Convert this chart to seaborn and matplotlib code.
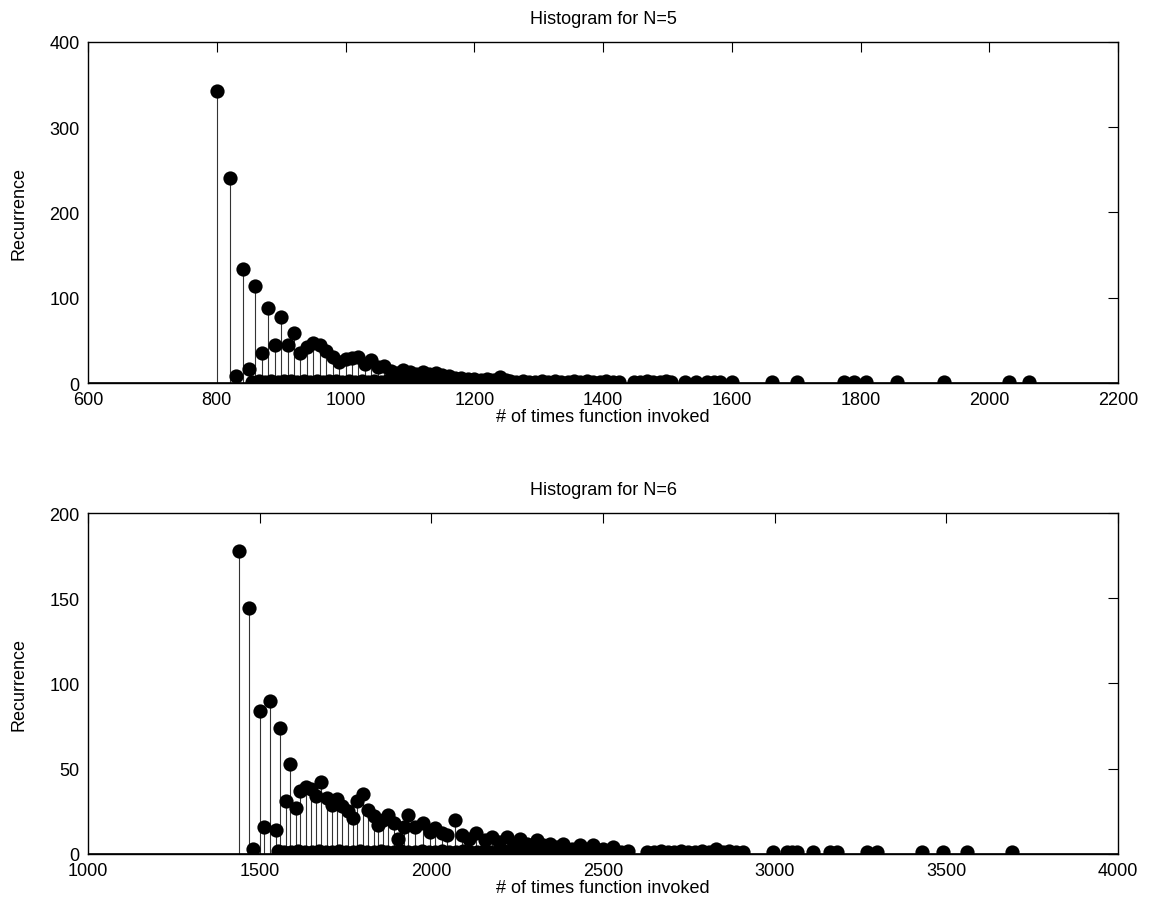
import matplotlib
matplotlib.use("Agg")
import matplotlib.pyplot as plt
import pandas as pd
import seaborn as sns

# N=5: upper points (main histogram peaks)
n5_peak_x = [800, 820, 830, 840, 850, 860, 870, 880, 890, 900,
             910, 920, 930, 940, 950, 960, 970, 980, 990, 1000,
             1010, 1020, 1030, 1040, 1050, 1060, 1070, 1080, 1090, 1100,
             1110, 1120, 1130, 1140, 1150, 1160, 1170, 1180, 1190, 1200,
             1210, 1220, 1230, 1240, 1250]
n5_peak_y = [342, 241, 8, 134, 17, 114, 35, 88, 44, 78,
             45, 59, 35, 42, 47, 44, 38, 30, 25, 28,
             29, 30, 22, 27, 19, 20, 14, 12, 15, 13,
             11, 13, 10, 12, 9, 8, 6, 6, 5, 5,
             4, 5, 4, 7, 3]

# N=5: low-count tail
n5_tail_x = [855, 865, 875, 885, 895, 905, 915, 925, 935, 945,
             955, 965, 975, 985, 995, 1005, 1015, 1025, 1035, 1045,
             1055, 1065, 1075, 1085, 1095, 1105, 1115, 1125, 1135, 1145,
             1155, 1165, 1175, 1185, 1195, 1205, 1215, 1225, 1235, 1245,
             1255, 1265, 1275, 1285, 1295, 1305, 1315, 1325, 1335, 1345,
             1355, 1365, 1375, 1385, 1395, 1405, 1415, 1425,
             1448, 1458, 1468, 1478, 1488, 1498, 1506,
             1527, 1545, 1562, 1572, 1581, 1600, 1663, 1702, 1775, 1790,
             1808, 1856, 1929, 2030, 2061]
n5_tail_y = [1, 2, 1, 2, 1, 2, 2, 1, 2, 1,
             2, 1, 2, 2, 1, 2, 1, 2, 1, 2,
             1, 2, 2, 1, 2, 3, 1, 2, 1, 2,
             2, 1, 2, 1, 2, 1, 2, 3, 1, 2,
             2, 1, 2, 1, 1, 2, 1, 2, 1, 1,
             2, 1, 2, 1, 1, 2, 1, 1,
             1, 1, 2, 1, 1, 2, 1,
             1, 1, 1, 1, 1, 1, 1, 1, 1, 1,
             1, 1, 1, 1, 1]

# N=6: upper points
n6_peak_x = [1440, 1470, 1481, 1500, 1514, 1530, 1547, 1560, 1576, 1588,
             1606, 1617, 1635, 1650, 1664, 1679, 1695, 1710, 1726, 1741,
             1757, 1771, 1784, 1800, 1816, 1833, 1846, 1860, 1875, 1890,
             1904, 1920, 1933, 1953, 1977, 1995, 2011, 2030, 2045, 2069,
             2088, 2110, 2131, 2155, 2176, 2198, 2219, 2240, 2258, 2280,
             2307, 2325, 2346, 2365, 2384, 2410, 2433, 2450, 2471, 2500,
             2530]
n6_peak_y = [178, 144, 3, 84, 16, 90, 14, 74, 31, 53,
             27, 37, 39, 38, 34, 42, 33, 29, 32, 28,
             25, 21, 31, 35, 26, 22, 17, 20, 23, 18,
             9, 16, 23, 16, 18, 13, 15, 12, 11, 20,
             11, 9, 12, 8, 10, 7, 10, 6, 9, 6,
             8, 5, 6, 4, 6, 3, 5, 3, 5, 3,
             4]

# N=6: low-count tail
n6_tail_x = [1552, 1572, 1592, 1612, 1632, 1652, 1672, 1692, 1712, 1732,
             1752, 1772, 1792, 1812, 1832, 1852, 1872, 1892, 1912, 1932,
             1952, 1972, 1992, 2012, 2032, 2052, 2072, 2092, 2112, 2132,
             2152, 2172, 2192, 2212, 2232, 2252, 2272, 2292, 2312, 2332,
             2352, 2372, 2392, 2412, 2432, 2452, 2472, 2492, 2512, 2532,
             2552, 2572,
             2628, 2648, 2668, 2688, 2708, 2728, 2748, 2768, 2788, 2808,
             2828, 2848, 2868, 2888, 2908,
             2996, 3036, 3050, 3065, 3112, 3161, 3181, 3268, 3298, 3429,
             3490, 3559, 3690]
n6_tail_y = [2, 1, 1, 2, 1, 1, 2, 1, 1, 2,
             1, 1, 2, 1, 1, 2, 1, 1, 2, 1,
             1, 2, 1, 1, 2, 1, 1, 2, 1, 1,
             2, 1, 1, 2, 1, 1, 2, 1, 1, 2,
             1, 1, 2, 1, 1, 2, 1, 1, 2, 1,
             1, 2,
             1, 1, 2, 1, 1, 2, 1, 1, 2, 1,
             3, 1, 2, 1, 1,
             1, 1, 1, 1, 1, 1, 1, 1, 1, 1,
             1, 1, 1]

PANELS = [
    ("Histogram for N=5", n5_peak_x + n5_tail_x, n5_peak_y + n5_tail_y,
     (600, 2200), [600, 800, 1000, 1200, 1400, 1600, 1800, 2000, 2200],
     (0, 400), [0, 100, 200, 300, 400]),
    ("Histogram for N=6", n6_peak_x + n6_tail_x, n6_peak_y + n6_tail_y,
     (1000, 4000), [1000, 1500, 2000, 2500, 3000, 3500, 4000],
     (0, 200), [0, 50, 100, 150, 200]),
]


def draw_stem(ax, title, xs, ys, xlim, xticks, ylim, yticks):
    df = pd.DataFrame({"x": xs, "y": ys})
    ax.vlines(df["x"], 0, df["y"], color="#333333", linewidth=0.8, zorder=1)
    ax.axhline(0, color="black", linewidth=1.2, zorder=1)
    sns.scatterplot(data=df, x="x", y="y", ax=ax, color="black", s=105,
                    edgecolor="black", linewidth=0, zorder=3, legend=False)
    ax.set_xlim(*xlim)
    ax.set_ylim(*ylim)
    ax.set_xticks(xticks)
    ax.set_yticks(yticks)
    ax.set_title(title, fontsize=13, pad=14, color="black")
    ax.set_xlabel("# of times function invoked", fontsize=13, labelpad=0,
                  color="black")
    ax.set_ylabel("Recurrence", fontsize=13, labelpad=16, color="black")
    ax.tick_params(direction="in", length=7, width=0.8, top=True, right=True,
                   labelsize=13, pad=6, colors="black")
    for spine in ax.spines.values():
        spine.set_visible(True)
        spine.set_color("black")
        spine.set_linewidth(1.0)


sns.set_style("white")
plt.rcParams["font.family"] = ["Liberation Sans", "DejaVu Sans"]
plt.rcParams["text.color"] = "black"

fig = plt.figure(figsize=(11.61, 9.2), dpi=100)
ax_top = fig.add_axes([0.0758, 0.5826, 0.8872, 0.3707])
ax_bot = fig.add_axes([0.0758, 0.0707, 0.8872, 0.3706])

for ax, panel in zip([ax_top, ax_bot], PANELS):
    draw_stem(ax, *panel)

fig.savefig("out.png", dpi=100)
